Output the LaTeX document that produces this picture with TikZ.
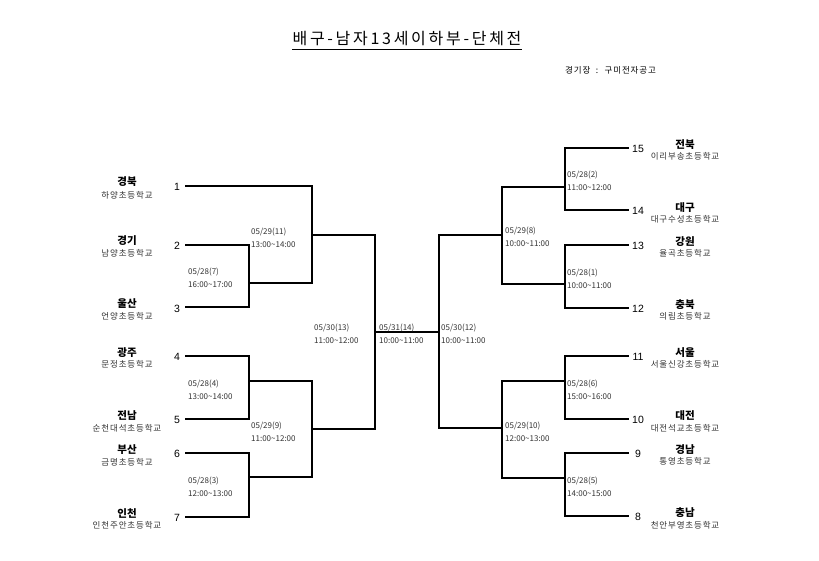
\documentclass[tikz,border=0pt]{standalone}
\usepackage{fontspec}
\setmainfont{Noto Sans CJK KR}
\newfontfamily\numfont{Liberation Sans}
\newfontfamily\titlefont[LetterSpace=17]{Noto Sans CJK KR}
\newfontfamily\spacedfont[LetterSpace=10]{Noto Sans CJK KR}
\begin{document}
\begin{tikzpicture}[x=1pt,y=-1pt,
  br/.style={line width=1.7pt, line cap=rect},
  num/.style={font=\numfont\fontsize{10.5}{12}\selectfont, inner sep=0pt},
  region/.style={font=\bfseries\fontsize{10.5}{12}\selectfont, inner sep=0pt},
  school/.style={font=\spacedfont\fontsize{8.5}{10}\selectfont, inner sep=0pt, text=black!80},
  match/.style={font=\fontsize{8}{13}\selectfont, inner sep=0pt, anchor=west, align=left, text=black!80}]
\useasboundingbox (0,0) rectangle (819,561);
\fill[white] (0,0) rectangle (819,561);
% title
\node[inner sep=0pt, font=\titlefont\fontsize{16}{18}\selectfont] (title) at (407,39) {배구-남자13세이하부-단체전};
\draw[line width=0.9pt] ([yshift=-4pt]title.base west) -- ([yshift=-4pt]title.base east);
\node[inner sep=0pt, anchor=west, font=\spacedfont\fontsize{8.5}{10}\selectfont] (venue) at (565,70) {경기장 \ : \ 구미전자공고};

% left team line ends
\coordinate (a1) at (186,186);
\coordinate (a2) at (186,245);
\coordinate (a3) at (186,307);
\coordinate (a4) at (186,356);
\coordinate (a5) at (186,419);
\coordinate (a6) at (186,453);
\coordinate (a7) at (186,517);
% left joints
\coordinate (j7) at (249,283);
\coordinate (j11) at (312,235);
\coordinate (j4) at (249,381);
\coordinate (j3) at (249,477);
\coordinate (j9) at (312,429);
\coordinate (j13) at (375,332);
\coordinate (j12) at (439,332);
% right team line ends
\coordinate (b15) at (628,148);
\coordinate (b14) at (628,210);
\coordinate (b13) at (628,245);
\coordinate (b12) at (628,308);
\coordinate (b11) at (628,356);
\coordinate (b10) at (628,419);
\coordinate (b9) at (628,453);
\coordinate (b8) at (628,516);
% right joints
\coordinate (j2) at (565,187);
\coordinate (j1) at (565,284);
\coordinate (j8) at (502,235);
\coordinate (j6) at (565,381);
\coordinate (j5) at (565,478);
\coordinate (j10) at (502,428);

% brackets left
\draw[br] (a2) -| (j7) |- (a3);
\draw[br] (a1) -| (j11) |- (j7);
\draw[br] (a4) -| (j4) |- (a5);
\draw[br] (a6) -| (j3) |- (a7);
\draw[br] (j4) -| (j9) |- (j3);
\draw[br] (j11) -| (j13) |- (j9);
\draw[br] (j13) -- (j12);
% brackets right
\draw[br] (b15) -| (j2) |- (b14);
\draw[br] (b13) -| (j1) |- (b12);
\draw[br] (j2) -| (j8) |- (j1);
\draw[br] (b11) -| (j6) |- (b10);
\draw[br] (b9) -| (j5) |- (b8);
\draw[br] (j6) -| (j10) |- (j5);
\draw[br] (j8) -| (j12) |- (j10);

% left numbers
\node[num] (n1) at (177,187) {1};
\node[num] (n2) at (177,246) {2};
\node[num] (n3) at (177,309) {3};
\node[num] (n4) at (177,357) {4};
\node[num] (n5) at (177,420) {5};
\node[num] (n6) at (177,454) {6};
\node[num] (n7) at (177,518) {7};
% right numbers
\node[num] (n15) at (638,149) {15};
\node[num] (n14) at (638,211) {14};
\node[num] (n13) at (638,246) {13};
\node[num] (n12) at (638,309) {12};
\node[num] (n11) at (638,357) {11};
\node[num] (n10) at (638,420) {10};
\node[num] (n9) at (638,454) {9};
\node[num] (n8) at (638,517) {8};

% left names
\node[region] (r1) at (127,182) {경북};
\node[school] (s1) at (127,195) {하양초등학교};
\node[region] (r2) at (127,241) {경기};
\node[school] (s2) at (127,253) {남양초등학교};
\node[region] (r3) at (127,304) {울산};
\node[school] (s3) at (127,316) {언양초등학교};
\node[region] (r4) at (127,353) {광주};
\node[school] (s4) at (127,364) {문정초등학교};
\node[region] (r5) at (127,416) {전남};
\node[school] (s5) at (127,428) {순천대석초등학교};
\node[region] (r6) at (127,450) {부산};
\node[school] (s6) at (127,462) {금명초등학교};
\node[region] (r7) at (127,513) {인천};
\node[school] (s7) at (127,525) {인천주안초등학교};
% right names
\node[region] (r15) at (685,145) {전북};
\node[school] (s15) at (685,156) {이리부송초등학교};
\node[region] (r14) at (685,208) {대구};
\node[school] (s14) at (685,219) {대구수성초등학교};
\node[region] (r13) at (685,242) {강원};
\node[school] (s13) at (685,253) {율곡초등학교};
\node[region] (r12) at (685,305) {충북};
\node[school] (s12) at (685,316) {의림초등학교};
\node[region] (r11) at (685,353) {서울};
\node[school] (s11) at (685,364) {서울신강초등학교};
\node[region] (r10) at (685,416) {대전};
\node[school] (s10) at (685,428) {대전석교초등학교};
\node[region] (r9) at (685,450) {경남};
\node[school] (s9) at (685,461) {통영초등학교};
\node[region] (r8) at (685,513) {충남};
\node[school] (s8) at (685,525) {천안부영초등학교};

% match labels
\node[match] (m11) at (251,237.5) {05/29(11)\\13:00\textasciitilde14:00};
\node[match] (m7) at (188,278) {05/28(7)\\16:00\textasciitilde17:00};
\node[match] (m4) at (188,390) {05/28(4)\\13:00\textasciitilde14:00};
\node[match] (m3) at (188,486.5) {05/28(3)\\12:00\textasciitilde13:00};
\node[match] (m9) at (251,431.5) {05/29(9)\\11:00\textasciitilde12:00};
\node[match] (m13) at (314,334) {05/30(13)\\11:00\textasciitilde12:00};
\node[match] (m14) at (379,334) {05/31(14)\\10:00\textasciitilde11:00};
\node[match] (m12) at (441,334) {05/30(12)\\10:00\textasciitilde11:00};
\node[match] (m8) at (505,236.5) {05/29(8)\\10:00\textasciitilde11:00};
\node[match] (m2) at (567,181) {05/28(2)\\11:00\textasciitilde12:00};
\node[match] (m1) at (567,279) {05/28(1)\\10:00\textasciitilde11:00};
\node[match] (m6) at (567,389.5) {05/28(6)\\15:00\textasciitilde16:00};
\node[match] (m10) at (505,431.5) {05/29(10)\\12:00\textasciitilde13:00};
\node[match] (m5) at (567,486.5) {05/28(5)\\14:00\textasciitilde15:00};
\end{tikzpicture}
\end{document}
